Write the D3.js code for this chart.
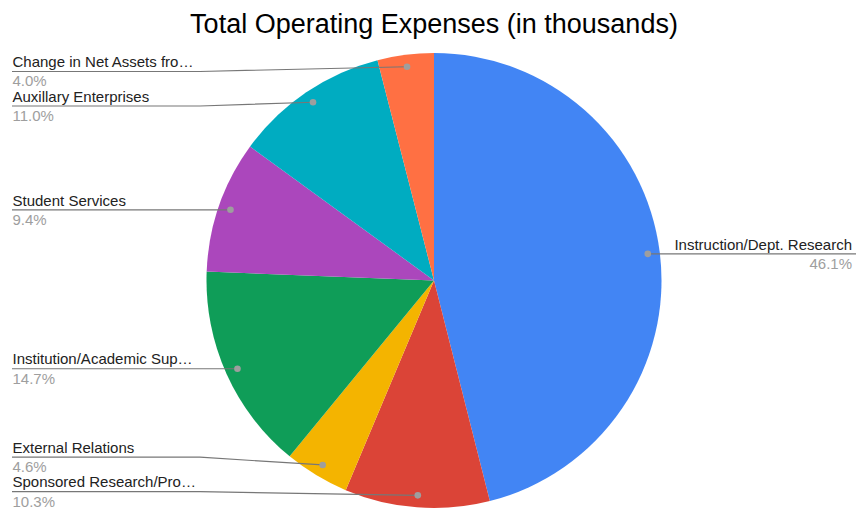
<!DOCTYPE html>
<html>
<head>
<meta charset="utf-8">
<script src="https://cdn.jsdelivr.net/npm/d3@7"></script>
<style>
  html, body { margin: 0; padding: 0; background: #fff; }
  svg { display: block; font-family: Arial, "Liberation Sans", sans-serif; }
</style>
</head>
<body>
<svg id="chart" width="858" height="510"></svg>
<script>
// Expense categories, clockwise from 12 o'clock
const categories = [
  "Instruction/Dept. Research",
  "Sponsored Research/Pro\u2026",
  "External Relations",
  "Institution/Academic Sup\u2026",
  "Student Services",
  "Auxillary Enterprises",
  "Change in Net Assets fro\u2026"
];
// Share of total operating expenses, percent
const shares = [46.1, 10.3, 4.6, 14.7, 9.4, 11.0, 4.0];
const palette = ["#4285f4", "#db4437", "#f4b400", "#0f9d58", "#ab47bc", "#00acc1", "#ff7043"];
const titleText = "Total Operating Expenses (in thousands)";

const W = 858, H = 510;
const cx = 434, cy = 280.5, R = 227.5;
const svg = d3.select("#chart");

svg.append("text")
  .attr("x", cx).attr("y", 33)
  .attr("text-anchor", "middle")
  .attr("font-size", 27)
  .attr("fill", "#000")
  .text(titleText);

const rows = categories.map((c, i) => ({ name: c, value: shares[i], color: palette[i] }));
const pie = d3.pie().value(d => d.value).sort(null);
const arcs = pie(rows);
const arc = d3.arc().innerRadius(0).outerRadius(R);

const g = svg.append("g").attr("transform", `translate(${cx},${cy})`);
g.selectAll("path.slice").data(arcs).join("path")
  .attr("class", "slice")
  .attr("d", arc)
  .attr("fill", d => d.data.color);

// Anchor dot for each slice, near the rim at the slice's mid-angle
const dotR = R * 0.947;
arcs.forEach(a => {
  const m = (a.startAngle + a.endAngle) / 2;
  a.dx = cx + dotR * Math.sin(m);
  a.dy = cy - dotR * Math.cos(m);
  a.right = Math.sin(m) > 0;
  a.pct = d3.format(".1f")(a.data.value) + "%";
});

// Stack labels on each side: clamp into range and keep a minimum gap
const gap = 34.5, topY = 71.5, botY = 491.7;
function layout(list) {
  list.sort((a, b) => a.dy - b.dy);
  list.forEach(a => a.ly = Math.min(Math.max(a.dy, topY), botY));
  for (let i = 1; i < list.length; i++)
    if (list[i].ly < list[i - 1].ly + gap) list[i].ly = list[i - 1].ly + gap;
  if (list.length && list[list.length - 1].ly > botY) list[list.length - 1].ly = botY;
  for (let i = list.length - 2; i >= 0; i--)
    if (list[i].ly > list[i + 1].ly - gap) list[i].ly = list[i + 1].ly - gap;
}
const leftSide = arcs.filter(a => !a.right);
const rightSide = arcs.filter(a => a.right);
layout(leftSide);
layout(rightSide);

const leftX = 12, rightX = 856, elbowL = 200;
const lab = svg.append("g");

arcs.forEach(a => {
  let pts;
  if (a.right) {
    pts = [[a.dx, a.dy], [a.dx + 20, a.ly], [rightX, a.ly]];
  } else {
    pts = [[leftX, a.ly], [elbowL, a.ly], [a.dx, a.dy]];
  }
  lab.append("path")
    .attr("d", d3.line()(pts))
    .attr("fill", "none")
    .attr("stroke", "#777")
    .attr("stroke-width", 1.2);
  lab.append("circle")
    .attr("cx", a.dx).attr("cy", a.dy).attr("r", 3.3)
    .attr("fill", "#9e9e9e");
  const x = a.right ? rightX - 4 : leftX + 0.5;
  const anchor = a.right ? "end" : "start";
  lab.append("text")
    .attr("x", x).attr("y", a.ly - 4.3)
    .attr("text-anchor", anchor)
    .attr("font-size", 15)
    .attr("fill", "#222")
    .text(a.data.name);
  lab.append("text")
    .attr("x", x).attr("y", a.ly + 14.8)
    .attr("text-anchor", anchor)
    .attr("font-size", 15)
    .attr("fill", "#9e9e9e")
    .text(a.pct);
});
</script>
</body>
</html>
